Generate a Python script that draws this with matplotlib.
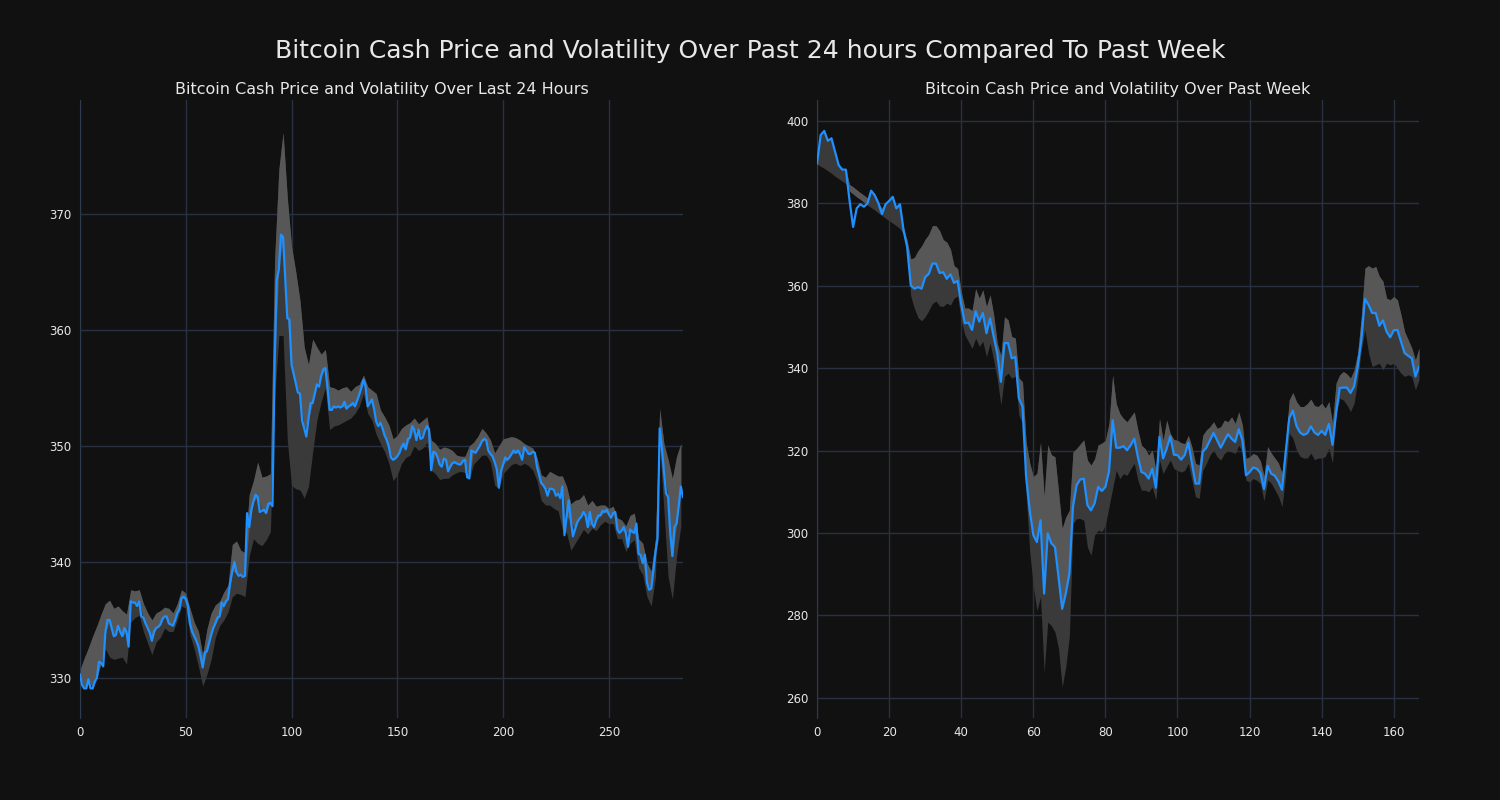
import matplotlib.pyplot as plt
import numpy as np

# 24 hour data (5 minute steps)
day_price = [
    330.3, 329.4, 329.1, 329.1, 329.9, 329.1, 329.1, 329.7, 330.0, 331.4,
    331.3, 331.0, 333.9, 335.0, 335.0, 334.3, 333.6, 333.7, 334.5, 334.0,
    333.6, 334.3, 334.0, 332.7, 336.6, 336.5, 336.5, 336.2, 336.6, 335.3,
    335.2, 334.7, 334.3, 333.9, 333.2, 334.0, 334.3, 334.4, 334.6, 335.1,
    335.3, 335.3, 334.7, 334.6, 334.5, 335.0, 335.6, 335.9, 336.9, 337.0,
    336.8, 336.2, 334.7, 334.0, 333.6, 333.2, 332.7, 331.9, 330.9, 332.2,
    332.3, 333.0, 333.7, 334.3, 334.7, 335.2, 335.3, 336.5, 336.2, 336.6,
    336.8, 338.2, 339.2, 340.0, 339.1, 338.8, 338.9, 338.7, 338.8, 344.2,
    343.0, 344.5, 345.2, 345.8, 345.6, 344.3, 344.4, 344.5, 344.2, 345.0,
    345.1, 344.8, 357.0, 364.3, 365.2, 368.2, 368.0, 364.5, 361.0, 360.9,
    357.0, 356.2, 355.4, 354.6, 354.5, 352.2, 351.5, 350.8, 352.3, 353.7,
    353.7, 354.5, 355.3, 355.1, 356.0, 356.6, 356.7, 355.0, 353.1, 353.1,
    353.4, 353.3, 353.4, 353.3, 353.4, 353.8, 353.2, 353.4, 353.5, 353.7,
    353.4, 353.9, 354.4, 355.0, 355.7, 355.1, 353.4, 353.7, 354.0, 353.2,
    352.1, 351.7, 352.0, 351.5, 350.9, 350.5, 349.9, 349.0, 348.8, 348.9,
    349.1, 349.4, 349.9, 350.2, 349.7, 350.6, 350.7, 351.7, 351.4, 350.5,
    351.4, 350.6, 350.7, 351.3, 351.7, 351.4, 347.9, 349.5, 349.4, 349.0,
    348.4, 348.2, 348.9, 348.8, 347.8, 348.2, 348.5, 348.6, 348.5, 348.4,
    348.4, 348.7, 348.8, 347.3, 347.2, 349.6, 349.5, 349.4, 349.7, 350.0,
    350.4, 350.6, 350.5, 349.6, 349.3, 349.1, 348.6, 348.0, 346.4, 347.8,
    348.4, 349.0, 348.8, 349.0, 349.3, 349.6, 349.4, 349.6, 349.3, 348.8,
    349.9, 349.6, 349.3, 349.3, 349.5, 349.4, 348.2, 347.5, 346.8, 346.6,
    346.3, 345.7, 346.3, 346.3, 346.2, 345.7, 345.9, 345.5, 346.5, 342.3,
    343.9, 345.3, 343.6, 342.2, 342.8, 343.4, 343.7, 343.9, 344.3, 344.0,
    343.0, 344.3, 343.3, 343.0, 343.6, 344.0, 344.0, 344.4, 344.3, 344.5,
    344.1, 343.8, 344.2, 344.3, 342.8, 342.5, 342.7, 343.0, 342.5, 341.3,
    342.8, 342.6, 342.5, 343.3, 340.7, 340.6, 339.9, 340.6, 338.2, 337.6,
    337.7, 339.2, 340.8, 342.0, 351.5, 349.9, 347.8, 345.9, 345.6, 342.5,
    340.5, 343.0, 343.3, 344.8, 346.5, 345.6,
]

# volatility band, every second step
day_upper = [
    330.7, 331.7, 332.6, 333.6, 334.5, 335.5, 336.4, 336.7, 336.0, 336.2,
    335.8, 335.5, 337.6, 337.5, 337.6, 336.4, 335.6, 335.0, 335.6, 335.8,
    336.1, 336.0, 335.6, 336.4, 337.6, 337.3, 336.0, 334.8, 334.0, 332.0,
    334.2, 335.6, 336.3, 336.6, 337.4, 338.0, 341.5, 341.8, 341.0, 340.8,
    345.8, 347.0, 348.6, 347.3, 347.4, 347.6, 366.0, 373.8, 377.0, 371.4,
    367.2, 365.0, 362.5, 358.5, 357.0, 359.2, 358.5, 357.9, 358.3, 355.1,
    355.0, 354.8, 355.0, 355.1, 354.7, 355.1, 355.3, 356.1, 355.1, 354.8,
    354.5, 353.1, 352.5, 351.8, 350.6, 350.9, 351.5, 351.8, 352.0, 352.4,
    351.9, 352.2, 352.5, 350.5, 350.2, 349.7, 349.9, 349.8, 349.6, 349.2,
    349.1, 349.1, 350.0, 350.3, 350.8, 351.5, 351.1, 350.5, 349.4, 350.0,
    350.6, 350.7, 350.8, 350.7, 350.5, 350.2, 350.0, 349.8, 349.0, 347.5,
    347.3, 347.8, 347.6, 347.4, 347.4, 346.5, 345.0, 345.3, 345.4, 345.8,
    344.9, 345.3, 344.8, 344.9, 344.9, 344.6, 344.8, 343.8, 343.6, 343.1,
    344.0, 344.2, 342.0, 341.6, 339.9, 339.2, 342.0, 353.2, 350.2, 348.8,
    347.2, 349.1, 350.2,
]
day_lower = [
    330.3, 329.1, 329.9, 329.1, 330.0, 331.3, 332.5, 331.8, 331.6, 331.7,
    331.8, 331.2, 334.8, 335.2, 335.4, 334.0, 333.0, 332.0, 333.1, 333.5,
    334.3, 334.0, 334.0, 335.0, 336.2, 336.0, 333.7, 332.5, 331.0, 329.3,
    330.3, 331.6, 333.5, 334.5, 335.0, 335.7, 337.0, 337.3, 337.2, 337.0,
    340.5, 342.0, 341.6, 341.4, 341.9, 342.6, 354.0, 359.5, 359.5, 350.5,
    346.6, 346.3, 346.2, 345.5, 346.5, 349.5, 352.2, 353.8, 355.0, 351.4,
    351.7, 351.8, 352.0, 352.2, 352.4, 352.8, 353.4, 354.5, 352.8, 352.2,
    351.0, 350.2, 349.5, 348.5, 347.0, 347.5, 348.5, 349.0, 349.2, 350.0,
    349.6, 349.8, 350.3, 347.9, 347.6, 347.1, 347.2, 347.2, 347.5, 347.7,
    347.8, 347.7, 347.1, 348.4, 348.8, 349.2, 349.2, 348.6, 346.6, 346.3,
    347.6, 348.0, 348.4, 348.5, 348.3, 348.5, 348.3, 347.9, 347.0, 345.3,
    344.9, 344.9, 344.6, 344.4, 342.8, 342.5, 341.0, 341.6, 342.2, 342.8,
    342.4, 342.9, 342.7, 343.2, 343.5, 343.3, 343.3, 342.0, 342.0, 340.9,
    341.6, 341.9, 339.5, 338.9, 337.0, 336.2, 338.7, 350.0, 344.5, 338.7,
    336.8, 340.5, 343.1,
]

# past week data (hourly)
week_price = [
    389.7, 396.6, 397.6, 395.2, 395.8, 392.5, 389.3, 388.2, 388.2, 380.8,
    374.3, 378.8, 379.8, 379.2, 380.0, 383.1, 382.0, 380.1, 377.4, 379.8,
    380.6, 381.6, 378.8, 379.8, 373.5, 369.4, 360.1, 359.3, 359.7, 359.3,
    362.1, 362.9, 365.4, 365.4, 363.1, 363.3, 361.7, 362.8, 360.7, 361.2,
    355.5, 350.9, 351.1, 349.3, 353.8, 351.3, 353.4, 348.5, 352.1, 347.7,
    343.6, 336.7, 346.1, 346.1, 342.4, 342.7, 332.7, 330.7, 313.6, 305.5,
    299.5, 297.8, 303.1, 285.3, 299.9, 297.5, 296.6, 289.3, 281.6, 285.3,
    290.1, 306.4, 311.6, 313.0, 313.2, 306.8, 305.5, 307.2, 311.2, 310.2,
    311.2, 315.0, 327.4, 320.7, 320.7, 321.1, 320.1, 321.3, 322.9, 318.5,
    314.8, 314.4, 313.2, 315.6, 311.0, 323.3, 318.1, 320.5, 323.5, 319.0,
    318.9, 317.8, 318.9, 321.9, 316.9, 312.0, 312.0, 319.7, 320.7, 322.5,
    324.3, 322.5, 320.7, 322.4, 324.0, 322.9, 322.1, 325.2, 322.5, 314.0,
    314.8, 315.9, 315.6, 314.6, 310.7, 316.3, 314.4, 313.9, 312.5, 310.5,
    319.4, 327.9, 329.7, 326.0, 324.4, 323.8, 324.2, 325.9, 324.4, 323.8,
    324.8, 323.8, 326.5, 321.4, 329.1, 335.2, 335.3, 335.3, 334.0, 335.6,
    340.4, 346.9, 356.8, 355.4, 353.4, 353.4, 350.3, 351.6, 348.9, 347.5,
    349.2, 349.3, 346.5, 343.7, 343.0, 342.4, 338.0, 340.3,
]
week_upper = [
    389.7, 396.6, 397.6, 395.2, 395.8, 392.5, 389.3, 388.2, 388.2, 384.6,
    384.0, 383.3, 382.6, 382.0, 381.3, 383.1, 382.0, 380.1, 378.8, 379.8,
    380.6, 381.6, 378.8, 379.8, 373.9, 371.0, 366.5, 366.9, 368.5, 369.7,
    371.3, 372.5, 374.6, 374.6, 373.4, 371.2, 370.6, 368.9, 364.9, 364.2,
    358.6, 354.6, 354.6, 354.0, 359.3, 357.0, 359.0, 355.0, 357.8, 353.0,
    346.0, 343.0, 352.5, 351.7, 347.7, 347.3, 337.6, 336.7, 322.0, 317.0,
    313.7, 314.5, 322.0, 309.0, 321.4, 319.0, 318.5, 310.0, 301.1, 303.9,
    305.5, 319.7, 320.5, 321.6, 322.6, 317.7, 316.5, 318.0, 321.4, 321.8,
    322.5, 326.6, 338.3, 331.4, 329.0, 327.8, 327.0, 328.2, 329.4, 325.0,
    321.3, 320.5, 318.9, 320.1, 315.2, 327.8, 322.5, 327.4, 324.1, 322.7,
    322.5, 321.9, 321.7, 323.7, 320.9, 316.9, 316.5, 323.7, 325.0, 325.8,
    327.0, 325.4, 325.8, 327.4, 327.0, 328.2, 326.6, 329.4, 326.2, 318.1,
    318.5, 319.3, 318.9, 317.5, 313.8, 321.0, 319.4, 318.2, 317.0, 314.5,
    322.0, 332.3, 334.1, 331.9, 330.7, 330.7, 331.4, 332.5, 330.9, 330.7,
    331.5, 330.3, 331.9, 326.7, 336.4, 338.4, 339.2, 338.6, 337.6, 339.6,
    343.7, 352.6, 364.3, 364.9, 364.3, 364.7, 362.3, 361.1, 357.0, 356.6,
    357.4, 356.6, 353.0, 348.9, 346.9, 344.9, 342.0, 344.9,
]
week_lower = [
    389.5, 389.0, 388.5, 387.9, 387.3, 386.6, 386.0, 385.4, 384.8, 383.0,
    382.3, 381.6, 381.0, 380.3, 379.6, 379.0, 378.4, 377.7, 377.1, 376.4,
    375.8, 375.2, 374.6, 373.9, 372.5, 368.0, 357.5, 354.5, 352.3, 351.5,
    352.5, 354.0, 355.7, 356.3, 355.1, 355.0, 355.8, 355.3, 357.0, 357.5,
    351.5, 348.1, 346.5, 344.8, 347.3, 345.3, 346.5, 342.8, 346.1, 342.0,
    337.5, 331.1, 338.0, 338.8, 337.6, 338.0, 328.6, 326.6, 309.6, 295.5,
    287.0, 281.2, 284.5, 266.2, 278.4, 277.5, 276.0, 272.0, 262.6, 267.5,
    275.0, 302.3, 303.5, 303.5, 303.1, 296.6, 294.6, 299.5, 300.7, 300.3,
    302.0, 306.4, 310.8, 315.2, 313.2, 314.4, 314.0, 315.6, 316.9, 312.8,
    310.4, 310.4, 310.0, 311.2, 308.0, 317.7, 314.4, 316.1, 317.7, 315.6,
    315.2, 314.8, 315.2, 316.9, 312.8, 308.8, 308.4, 315.2, 316.9, 318.9,
    320.1, 318.5, 317.7, 319.3, 320.1, 319.7, 319.3, 321.3, 319.7, 312.8,
    312.4, 313.2, 312.8, 312.0, 307.8, 312.9, 312.1, 310.5, 308.9, 306.4,
    314.0, 324.2, 323.0, 320.2, 318.6, 318.2, 318.2, 319.4, 317.8, 318.2,
    318.2, 318.6, 320.6, 317.0, 329.1, 332.7, 332.3, 331.1, 329.5, 331.5,
    337.2, 344.5, 349.3, 343.7, 340.4, 340.8, 341.2, 339.6, 341.2, 340.8,
    341.2, 340.0, 338.8, 338.0, 338.4, 338.0, 334.8, 337.2,
]

bg = '#111111'
grid_col = '#283141'
text_col = '#e8e8e8'

fig = plt.figure(figsize=(15, 8), dpi=100, facecolor=bg)
ax1 = fig.add_axes([0.0533, 0.1025, 0.402, 0.7725])
ax2 = fig.add_axes([0.5447, 0.1025, 0.4013, 0.7725])


def draw_panel(ax, price, upper, lower, step, title):
    price = np.array(price)
    upper = np.array(upper)
    lower = np.array(lower)
    x = np.arange(len(price))
    xb = x[::step][:len(upper)]
    mid = np.clip(price[::step][:len(upper)], lower, upper)
    ax.set_facecolor(bg)
    ax.fill_between(xb, upper, lower, color='#3a3a3a', linewidth=0, zorder=2)
    ax.fill_between(xb, upper, mid, color='#575757', linewidth=0, zorder=2)
    ax.plot(x, price, color='#1e90ff', linewidth=1.6, zorder=3)
    ax.set_xlim(0, len(price) - 1)
    ax.grid(True, color=grid_col, linewidth=1, zorder=0)
    ax.set_axisbelow(True)
    for s in ['top', 'right', 'bottom']:
        ax.spines[s].set_visible(False)
    ax.spines['left'].set_color('#2c3a4c')
    ax.tick_params(colors=text_col, labelsize=8.5, length=0, pad=6)
    ax.set_title(title, color=text_col, fontsize=11.5, pad=4.5)


draw_panel(ax1, day_price, day_upper, day_lower, 2,
           'Bitcoin Cash Price and Volatility Over Last 24 Hours')
ax1.set_ylim(326.55, 379.8)
ax1.set_xticks(range(0, 251, 50))
ax1.set_yticks(range(330, 371, 10))

draw_panel(ax2, week_price, week_upper, week_lower, 1,
           'Bitcoin Cash Price and Volatility Over Past Week')
ax2.set_ylim(255.1, 405.1)
ax2.set_xticks(range(0, 161, 20))
ax2.set_yticks(range(260, 401, 20))

fig.suptitle('Bitcoin Cash Price and Volatility Over Past 24 hours Compared To Past Week',
             color=text_col, fontsize=18, y=0.951)

fig.savefig('out.png', dpi=100, facecolor=bg)
